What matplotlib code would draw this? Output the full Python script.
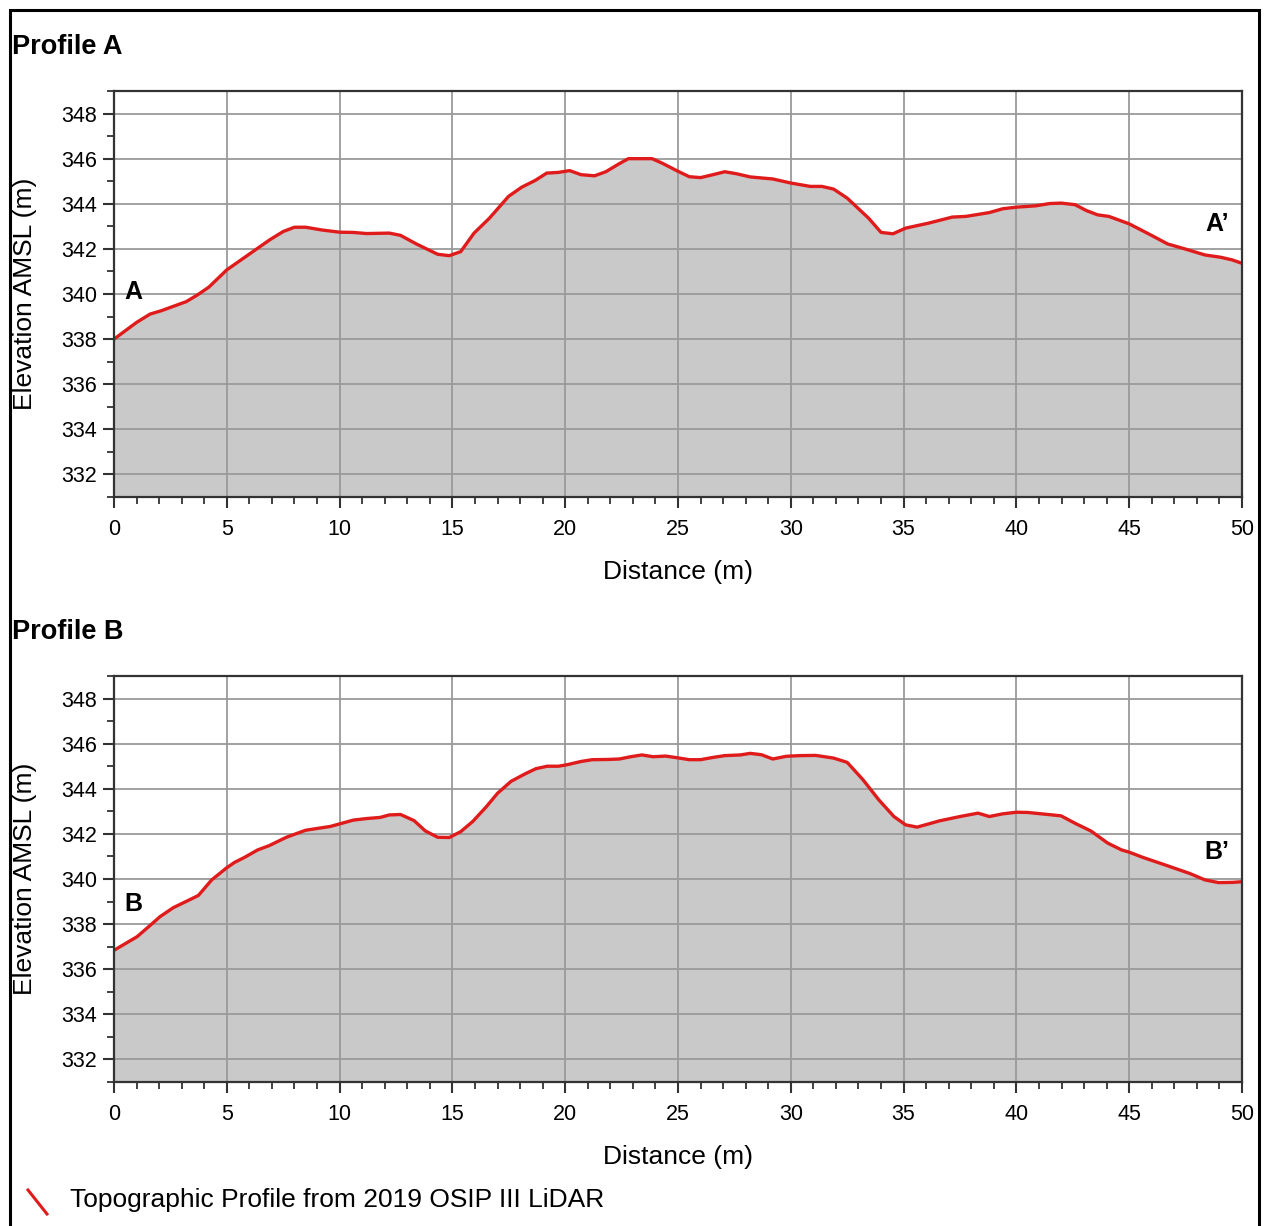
import numpy as np
import matplotlib.pyplot as plt
from matplotlib.patches import Rectangle
from matplotlib.lines import Line2D
from matplotlib.ticker import MultipleLocator

plt.rcParams['font.family'] = ['Liberation Sans', 'DejaVu Sans']

# --- Profile A (distance m, elevation m AMSL) ---
dist_a = [0.0, 1.0, 1.6, 2.1, 3.2, 3.7, 4.2, 5.0, 5.9, 6.9, 7.5, 8.0, 8.5, 9.2, 10.0,
          10.6, 11.2, 12.2, 12.7, 13.4, 14.35, 14.86, 15.37, 15.96, 16.64, 17.49, 18.08,
          18.68, 19.18, 19.69, 20.2, 20.7, 21.3, 21.8, 22.4, 22.8, 23.85, 24.3, 25.0,
          25.5, 26.0, 26.55, 27.07, 27.6, 28.2, 29.2, 30.0, 30.86, 31.38, 31.9, 32.5,
          33.45, 34.0, 34.53, 35.09, 36.1, 37.16, 37.76, 38.8, 39.4, 40.0, 40.86, 41.47,
          41.98, 42.6, 43.1, 43.6, 44.1, 45.0, 45.95, 46.7, 47.5, 48.36, 49.05, 49.57, 50.0]
elev_a = [338.0, 338.74, 339.11, 339.26, 339.66, 339.96, 340.3, 341.07, 341.7, 342.4,
          342.77, 342.96, 342.96, 342.84, 342.74, 342.73, 342.68, 342.7, 342.6, 342.22,
          341.76, 341.7, 341.88, 342.7, 343.36, 344.33, 344.74, 345.04, 345.36, 345.39,
          345.47, 345.29, 345.24, 345.42, 345.78, 346.0, 346.0, 345.8, 345.44, 345.2,
          345.16, 345.29, 345.42, 345.33, 345.19, 345.1, 344.92, 344.77, 344.77, 344.65,
          344.25, 343.36, 342.73, 342.67, 342.92, 343.14, 343.41, 343.44, 343.61, 343.78,
          343.85, 343.91, 344.01, 344.03, 343.96, 343.7, 343.51, 343.44, 343.11, 342.62,
          342.22, 341.99, 341.73, 341.63, 341.51, 341.36]

# --- Profile B ---
dist_b = [0.0, 1.02, 1.53, 2.04, 2.63, 3.23, 3.74, 4.33, 5.0, 5.35, 5.77, 6.37, 6.88,
          7.64, 8.49, 9.0, 9.59, 10.1, 10.6, 11.2, 11.8, 12.2, 12.7, 13.3, 13.8, 14.35,
          14.86, 15.37, 15.9, 16.5, 17.0, 17.6, 18.2, 18.7, 19.2, 19.7, 20.1, 20.7, 21.2,
          21.9, 22.4, 22.9, 23.4, 23.9, 24.45, 25.0, 25.5, 26.0, 26.55, 27.07, 27.76,
          28.2, 28.7, 29.2, 29.8, 30.4, 31.1, 31.9, 32.5, 33.2, 33.9, 34.57, 35.09, 35.6,
          36.6, 37.5, 38.3, 38.8, 39.4, 40.0, 40.5, 41.3, 41.98, 42.6, 43.3, 44.05, 44.66,
          45.0, 45.6, 46.6, 47.67, 48.36, 48.96, 49.57, 50.0]
elev_b = [336.84, 337.44, 337.88, 338.33, 338.73, 339.02, 339.27, 339.96, 340.5, 340.74,
          340.95, 341.29, 341.48, 341.85, 342.16, 342.24, 342.33, 342.47, 342.61, 342.68,
          342.73, 342.84, 342.86, 342.59, 342.13, 341.85, 341.84, 342.1, 342.55, 343.2,
          343.8, 344.33, 344.65, 344.89, 345.0, 345.0, 345.07, 345.21, 345.29, 345.3,
          345.32, 345.42, 345.5, 345.42, 345.45, 345.37, 345.29, 345.29, 345.39, 345.47,
          345.5, 345.57, 345.51, 345.32, 345.44, 345.47, 345.48, 345.36, 345.17, 344.4,
          343.51, 342.77, 342.4, 342.3, 342.58, 342.77, 342.92, 342.77, 342.89, 342.96,
          342.95, 342.87, 342.8, 342.47, 342.13, 341.59, 341.29, 341.19, 340.96, 340.62,
          340.25, 339.96, 339.84, 339.85, 339.88]

profiles = [
    ("Profile A", dist_a, elev_a, ("A", 0.85, 340.1), ("A\u2019", 48.9, 343.1)),
    ("Profile B", dist_b, elev_b, ("B", 0.85, 338.9), ("B\u2019", 48.9, 341.2)),
]

W, H = 1265, 1226
fig = plt.figure(figsize=(W / 100, H / 100), dpi=100)

# outer frame
fig.add_artist(Rectangle((10 / W, -0.01), 1249 / W, 1 - 10 / H + 0.01,
                         transform=fig.transFigure, fill=False, lw=2.2, ec='black'))

ax_rects = [(114, 91), (114, 676)]
for (title, d, e, lab0, lab1), (x0, y0) in zip(profiles, ax_rects):
    ax = fig.add_axes([x0 / W, 1 - (y0 + 406) / H, 1128 / W, 406 / H])
    ax.fill_between(d, e, 330, color='#c9c9c9', lw=0, zorder=1)
    ax.plot(d, e, color='#e01b1b', lw=2.4, zorder=3)
    ax.set_xlim(0, 50)
    ax.set_ylim(331, 349)
    ax.xaxis.set_major_locator(MultipleLocator(5))
    ax.xaxis.set_minor_locator(MultipleLocator(1))
    ax.set_yticks(np.arange(332, 349, 2))
    ax.yaxis.set_minor_locator(MultipleLocator(1))
    ax.grid(True, which='major', color='#9a9a9a', lw=1.3, zorder=2)
    ax.set_axisbelow(False)
    ax.tick_params(which='major', direction='out', length=8, width=1.5, color='#333333',
                   labelsize=15.5)
    ax.tick_params(axis='x', which='major', pad=8)
    ax.tick_params(axis='y', which='major', pad=4)
    ax.tick_params(which='minor', direction='out', length=5, width=1.3, color='#333333')
    for s in ax.spines.values():
        s.set_color('#333333')
        s.set_linewidth(1.6)
        s.set_zorder(4)
    ax.set_xlabel("Distance (m)", fontsize=19, labelpad=14)
    ax.set_ylabel("Elevation AMSL (m)", fontsize=19, va='center')
    ax.yaxis.set_label_coords(-89 / 1128, 0.5)
    ax.text(lab0[1], lab0[2], lab0[0], fontsize=18, fontweight='bold', zorder=5,
            ha='center', va='center')
    ax.text(lab1[1], lab1[2], lab1[0], fontsize=18, fontweight='bold', zorder=5,
            ha='center', va='center')
    fig.text(12 / W, 1 - (y0 - 44) / H, title, fontsize=19.5, fontweight='bold',
             ha='left', va='center')

# legend
fig.add_artist(Line2D([28 / W, 47 / W], [1 - 1190 / H, 1 - 1214 / H],
                      transform=fig.transFigure, color='#e01b1b', lw=2.2))
fig.text(70 / W, 1 - 1200 / H, "Topographic Profile from 2019 OSIP III LiDAR",
         fontsize=19, ha='left', va='center')

fig.savefig("out.png", dpi=100)
